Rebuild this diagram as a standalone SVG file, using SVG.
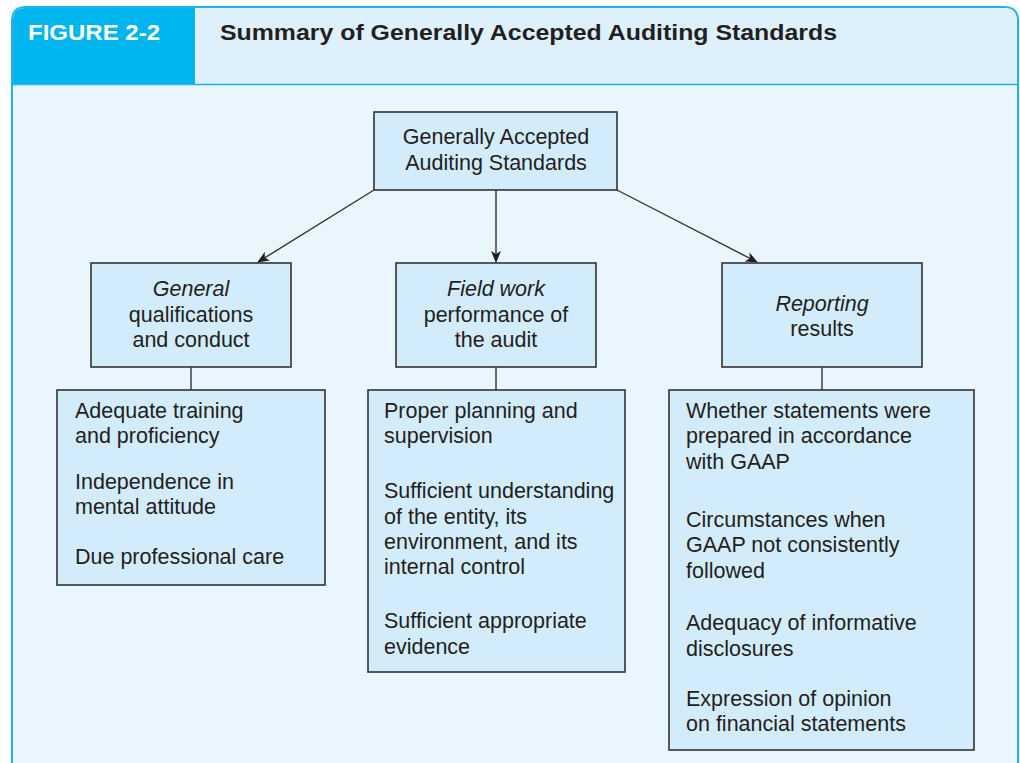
<svg xmlns="http://www.w3.org/2000/svg" width="1020" height="763" viewBox="0 0 1020 763">
<style>
.box{fill:#D2ECFB;stroke:#333;stroke-width:1.6}
.t{font-family:"Liberation Sans",Arial,sans-serif;font-size:21.5px;fill:#231F20}
.c{text-anchor:middle}
.i{font-style:italic}
.con{stroke:#333;stroke-width:1.4;fill:none}
</style>
<defs>
<marker id="ah" viewBox="0 0 12 10" refX="11" refY="5" markerWidth="12" markerHeight="10" markerUnits="userSpaceOnUse" orient="auto">
<path d="M0,0 L12,5 L0,10 L3,5 Z" fill="#231F20"/>
</marker>
</defs>
<rect width="1020" height="763" fill="#fff"/>
<g id="frame">
<path d="M12,770 V21 Q12,7 26,7 H1004 Q1018,7 1018,21 V770 Z" fill="#EAF6FD" stroke="#1EB4EA" stroke-width="2"/>
<path d="M13,84 V21 Q13,8 26,8 H1004 Q1017,8 1017,21 V84 Z" fill="#DDF0FC"/>
<path d="M13,84 V21 Q13,8 26,8 H195 V84 Z" fill="#00B4EE"/>
<line x1="12" y1="84.5" x2="1018" y2="84.5" stroke="#1EB4EA" stroke-width="1.5"/>
<text x="28" y="40" font-family="Liberation Sans,Arial,sans-serif" font-weight="bold" font-size="22" fill="#fff" textLength="132" lengthAdjust="spacingAndGlyphs">FIGURE 2-2</text>
<text x="220" y="40" font-family="Liberation Sans,Arial,sans-serif" font-weight="bold" font-size="22" fill="#231F20" textLength="617" lengthAdjust="spacingAndGlyphs">Summary of Generally Accepted Auditing Standards</text>
</g>
<g id="connectors">
<line class="con" x1="374" y1="190" x2="258" y2="262" marker-end="url(#ah)"/>
<line class="con" x1="496" y1="190" x2="496" y2="262" marker-end="url(#ah)"/>
<line class="con" x1="617" y1="190" x2="757" y2="262" marker-end="url(#ah)"/>
<line class="con" x1="191" y1="367" x2="191" y2="390"/>
<line class="con" x1="496" y1="367" x2="496" y2="390"/>
<line class="con" x1="822" y1="367" x2="822" y2="390"/>
</g>
<g id="gaas">
<rect class="box" x="374" y="112" width="243" height="78"/>
<text class="t c" x="496" y="144">Generally Accepted</text>
<text class="t c" x="496" y="170">Auditing Standards</text>
</g>
<g id="general">
<rect class="box" x="91" y="263" width="200" height="104"/>
<text class="t c i" x="191" y="296">General</text>
<text class="t c" x="191" y="322">qualifications</text>
<text class="t c" x="191" y="347">and conduct</text>
</g>
<g id="fieldwork">
<rect class="box" x="396" y="263" width="200" height="104"/>
<text class="t c i" x="496" y="296">Field work</text>
<text class="t c" x="496" y="322">performance of</text>
<text class="t c" x="496" y="347">the audit</text>
</g>
<g id="reporting">
<rect class="box" x="722" y="263" width="200" height="104"/>
<text class="t c i" x="822" y="311">Reporting</text>
<text class="t c" x="822" y="336">results</text>
</g>
<g id="general-list">
<rect class="box" x="57" y="390" width="268" height="195"/>
<text class="t" x="75" y="418">Adequate training</text>
<text class="t" x="75" y="443">and proficiency</text>
<text class="t" x="75" y="489">Independence in</text>
<text class="t" x="75" y="514">mental attitude</text>
<text class="t" x="75" y="564">Due professional care</text>
</g>
<g id="fieldwork-list">
<rect class="box" x="368" y="390" width="257" height="282"/>
<text class="t" x="384" y="418">Proper planning and</text>
<text class="t" x="384" y="443">supervision</text>
<text class="t" x="384" y="498">Sufficient understanding</text>
<text class="t" x="384" y="524">of the entity, its</text>
<text class="t" x="384" y="549">environment, and its</text>
<text class="t" x="384" y="574">internal control</text>
<text class="t" x="384" y="628">Sufficient appropriate</text>
<text class="t" x="384" y="654">evidence</text>
</g>
<g id="reporting-list">
<rect class="box" x="669" y="390" width="305" height="360"/>
<text class="t" x="686" y="418">Whether statements were</text>
<text class="t" x="686" y="443">prepared in accordance</text>
<text class="t" x="686" y="469">with GAAP</text>
<text class="t" x="686" y="527">Circumstances when</text>
<text class="t" x="686" y="552">GAAP not consistently</text>
<text class="t" x="686" y="578">followed</text>
<text class="t" x="686" y="630">Adequacy of informative</text>
<text class="t" x="686" y="656">disclosures</text>
<text class="t" x="686" y="706">Expression of opinion</text>
<text class="t" x="686" y="731">on financial statements</text>
</g>
</svg>
